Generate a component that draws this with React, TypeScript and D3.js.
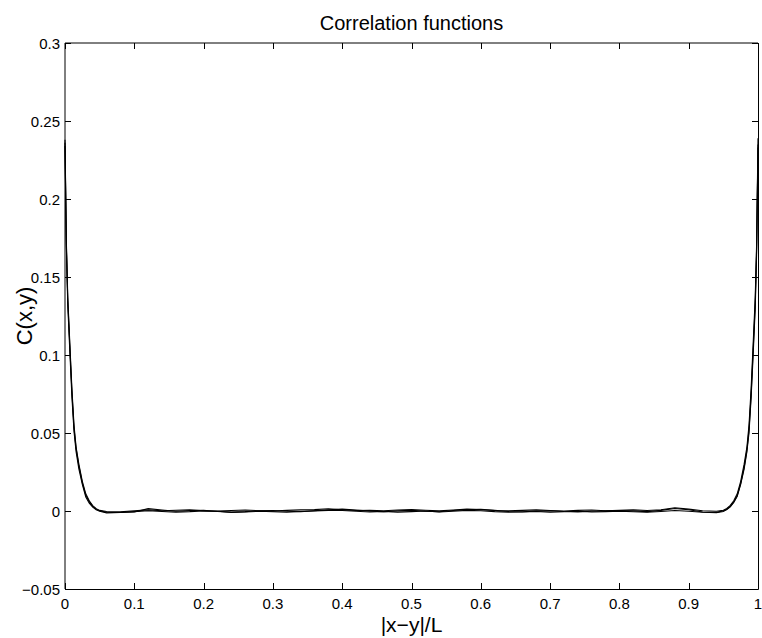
import React from "react";
import * as d3 from "d3";

const xLeft = [0, 0.002, 0.004, 0.007, 0.01, 0.013, 0.016, 0.02, 0.025, 0.03, 0.035, 0.04, 0.045, 0.05];
const xMid = [0.06, 0.08, 0.1, 0.12, 0.14, 0.16, 0.18, 0.2, 0.22, 0.24, 0.26, 0.28, 0.3, 0.32, 0.34, 0.36, 0.38, 0.4, 0.42, 0.44, 0.46, 0.48, 0.5, 0.52, 0.54, 0.56, 0.58, 0.6, 0.62, 0.64, 0.66, 0.68, 0.7, 0.72, 0.74, 0.76, 0.78, 0.8, 0.82, 0.84, 0.86, 0.88, 0.9, 0.92, 0.94];
const xRight = [0.95, 0.955, 0.96, 0.965, 0.97, 0.975, 0.98, 0.984, 0.987, 0.99, 0.993, 0.996, 0.998, 1];

const seriesA = [
  0.236, 0.17, 0.135, 0.105, 0.076, 0.053, 0.04, 0.029, 0.018, 0.01, 0.006, 0.003, 0.0012, 0.0002,
  -0.0008, -0.001, -0.0006, 0.0015, 0.0006,
  -0.0002, 0.0003, 0.0004, -0.0003, -0.0007,
  -0.0004, 0.0001, 0.0003, -0.0002, -0.0005,
  0.0002, 0.0008, 0.0012, 0.0006, -0.0001,
  -0.0004, 0.0001, 0.0004, -0.0002, -0.0005,
  0.0003, 0.0009, 0.0011, 0.0004, -0.0003,
  -0.0005, -0.0001, 0.0002, -0.0003, -0.0006,
  -0.0002, 0.0001, 0.0003, 0.0, -0.0004,
  0.0004, 0.0016, 0.0008, -0.0006, -0.0009,
  0.0001, 0.0011, 0.003, 0.0058, 0.0098, 0.0175, 0.028, 0.039, 0.052, 0.074, 0.103, 0.133, 0.168, 0.235,
];
const seriesB = [
  0.234, 0.168, 0.132, 0.102, 0.073, 0.051, 0.038, 0.027, 0.017, 0.009, 0.005, 0.0025, 0.0008, -0.0002,
  -0.0012, -0.0009, -0.0004, 0.0002, -0.0003,
  -0.0007, -0.0004, 0.0001, -0.0002, -0.0009,
  -0.0006, -0.0002, -0.0005, -0.0008, -0.0003,
  0.0001, 0.0004, 0.0003, -0.0002, -0.0006,
  -0.0003, -0.0007, -0.0004, 0.0, -0.0006,
  -0.0002, 0.0004, 0.0002, -0.0004, -0.0008,
  -0.0006, -0.0003, -0.0007, -0.0005, -0.0002,
  -0.0006, -0.0004, -0.0001, -0.0005, -0.0008,
  -0.0003, 0.0003, -0.0002, -0.0008, -0.0011,
  -0.0003, 0.0009, 0.0027, 0.0055, 0.0095, 0.017, 0.027, 0.038, 0.05, 0.072, 0.1, 0.13, 0.165, 0.233,
];
const seriesC = [
  0.238, 0.172, 0.137, 0.107, 0.078, 0.055, 0.041, 0.03, 0.019, 0.011, 0.0065, 0.0035, 0.0015, 0.0004,
  -0.0003, -0.0005, 0.0001, 0.0007, 0.0002,
  0.0005, 0.0008, 0.0002, -0.0001, 0.0003,
  0.0006, 0.0002, -0.0001, 0.0004, 0.0007,
  0.0009, 0.0014, 0.0007, 0.0003, 0.0005,
  0.0002, 0.0006, 0.0009, 0.0005, 0.0001,
  0.0006, 0.0012, 0.0008, 0.0003, 0.0001,
  0.0004, 0.0007, 0.0003, 0.0, 0.0004,
  0.0006, 0.0002, 0.0005, 0.0007, 0.0003,
  0.0008, 0.0021, 0.0012, 0.0002, -0.0002,
  0.0005, 0.0016, 0.0036, 0.0066, 0.011, 0.019, 0.03, 0.041, 0.055, 0.078, 0.107, 0.137, 0.171, 0.239,
];

const xTicks = [0, 0.1, 0.2, 0.3, 0.4, 0.5, 0.6, 0.7, 0.8, 0.9, 1];
const xTickLabels = ["0", "0.1", "0.2", "0.3", "0.4", "0.5", "0.6", "0.7", "0.8", "0.9", "1"];
const yTicks = [-0.05, 0, 0.05, 0.1, 0.15, 0.2, 0.25, 0.3];
const yTickLabels = ["\u22120.05", "0", "0.05", "0.1", "0.15", "0.2", "0.25", "0.3"];

const titleText = "Correlation functions";
const xLabelText = "|x\u2212y|/L";
const yLabelText = "C(x,y)";

export default function App() {
  const W = 762, H = 638;
  const L = 65, R = 758, T = 43, B = 589;
  const x = d3.scaleLinear().domain([0, 1]).range([L, R]);
  const y = d3.scaleLinear().domain([-0.05, 0.3]).range([B, T]);
  const xs = [...xLeft, ...xMid, ...xRight];
  const line = d3
    .line<[number, number]>()
    .x((d) => x(d[0]))
    .y((d) => y(d[1]));
  const all = [seriesA, seriesB, seriesC].map((s) =>
    xs.slice(0, Math.min(xs.length, s.length)).map((xv, i) => [xv, s[i]] as [number, number])
  );
  const font = "'Liberation Sans', Arial, Helvetica, sans-serif";
  const tl = 6;
  return (
    <svg
      width={W}
      height={H}
      style={{ position: "absolute", left: 0, top: 0, background: "#fff" }}
      fontFamily={font}
    >
      <rect x={0} y={0} width={W} height={H} fill="#fff" />
      {all.map((pts, i) => (
        <path key={i} d={line(pts) || ""} fill="none" stroke="#000" strokeWidth={1.1} />
      ))}
      {/* frame */}
      <line x1={L} y1={T} x2={R} y2={T} stroke="#000" strokeWidth={1} />
      <line x1={L} y1={T} x2={L} y2={B} stroke="#000" strokeWidth={1} />
      <line x1={L} y1={B + 0.5} x2={R + 0.5} y2={B + 0.5} stroke="#000" strokeWidth={1} />
      <line x1={R + 0.5} y1={T} x2={R + 0.5} y2={B + 0.5} stroke="#000" strokeWidth={1} />
      {xTicks.map((t, i) => (
        <g key={"x" + i}>
          <line x1={Math.round(x(t)) + 0.5} x2={Math.round(x(t)) + 0.5} y1={B} y2={B - tl} stroke="#000" />
          <line x1={Math.round(x(t)) + 0.5} x2={Math.round(x(t)) + 0.5} y1={T} y2={T + tl} stroke="#000" />
          <text x={x(t)} y={609} fontSize={15} textAnchor="middle" fill="#000">
            {xTickLabels[i]}
          </text>
        </g>
      ))}
      {yTicks.map((t, i) => (
        <g key={"y" + i}>
          <line x1={L} x2={L + tl} y1={Math.round(y(t)) + 0.5} y2={Math.round(y(t)) + 0.5} stroke="#000" />
          <line x1={R} x2={R - tl} y1={Math.round(y(t)) + 0.5} y2={Math.round(y(t)) + 0.5} stroke="#000" />
          <text x={60} y={y(t) + 5.5} fontSize={15} textAnchor="end" fill="#000">
            {yTickLabels[i]}
          </text>
        </g>
      ))}
      <text x={(L + R) / 2} y={30} fontSize={20} textAnchor="middle" fill="#000">
        {titleText}
      </text>
      <text x={(L + R) / 2} y={632} fontSize={21} textAnchor="middle" fill="#000">
        {xLabelText}
      </text>
      <text
        transform={`translate(32,316) rotate(-90)`}
        fontSize={22}
        textAnchor="middle"
        fill="#000"
      >
        {yLabelText}
      </text>
    </svg>
  );
}
